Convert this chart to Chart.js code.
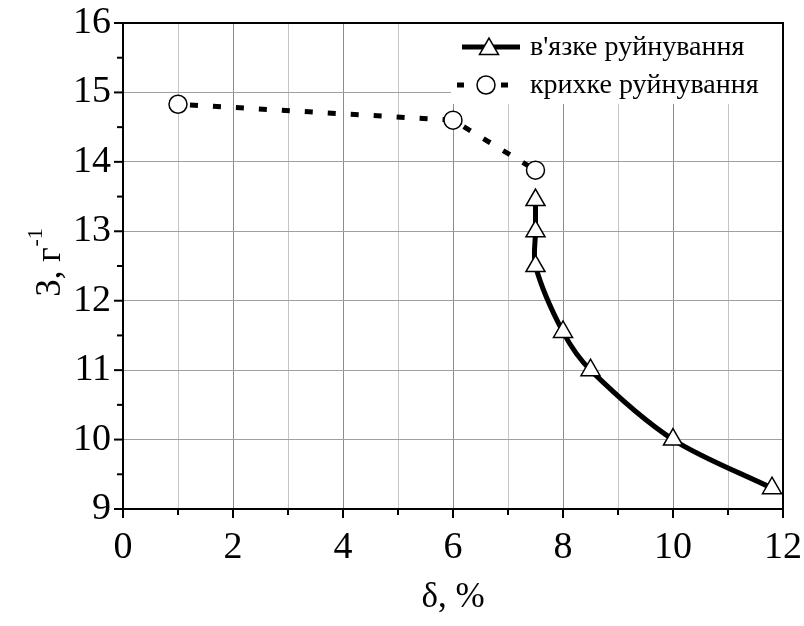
<!DOCTYPE html>
<html>
<head>
<meta charset="utf-8">
<script src="https://cdn.jsdelivr.net/npm/chart.js@4.4.0/dist/chart.umd.min.js"></script>
<style>
  html, body { margin: 0; padding: 0; background: #fff; }
  #wrap { width: 804px; height: 626px; }
</style>
</head>
<body>
<div id="wrap"><canvas id="myChart" width="804" height="626"></canvas></div>
<script>
// data
const ductileX = [7.5, 7.5, 7.5, 8, 8.5, 10, 11.8];
const ductileY = [13.45, 13.0, 12.5, 11.55, 11.0, 10.0, 9.3];
const brittleX = [1, 6, 7.5];
const brittleY = [14.83, 14.6, 13.88];
const ductileLabel = "в'язке руйнування";
const brittleLabel = 'крихке руйнування';
const xTicks = [0, 2, 4, 6, 8, 10, 12];
const yTicks = [9, 10, 11, 12, 13, 14, 15, 16];

const serif = '"Liberation Serif", "Times New Roman", serif';

function toPoints(xs, ys) {
  return xs.map((x, i) => ({ x: x, y: ys[i] }));
}

// frame, tick marks, axis titles and the legend box
const decorations = {
  id: 'decorations',
  afterDraw(chart) {
    const ctx = chart.ctx;
    const a = chart.chartArea;
    const xs = chart.scales.x;
    const ys = chart.scales.y;
    ctx.save();
    ctx.strokeStyle = '#000';
    ctx.lineWidth = 2;
    ctx.beginPath();
    ctx.moveTo(a.left, a.top);
    ctx.lineTo(a.right, a.top);
    ctx.lineTo(a.right, a.bottom);
    ctx.stroke();

    // x ticks (major on even values)
    for (let v = 0; v <= 12; v++) {
      const px = xs.getPixelForValue(v);
      const len = v % 2 === 0 ? 9 : 6;
      ctx.beginPath();
      ctx.moveTo(px, a.bottom);
      ctx.lineTo(px, a.bottom + len);
      ctx.stroke();
    }
    // y ticks (minor on halves)
    for (let v = 9; v <= 16; v += 0.5) {
      const py = ys.getPixelForValue(v);
      const len = Number.isInteger(v) ? 9 : 6;
      ctx.beginPath();
      ctx.moveTo(a.left, py);
      ctx.lineTo(a.left - len, py);
      ctx.stroke();
    }

    // x title
    ctx.fillStyle = '#000';
    ctx.font = '35px ' + serif;
    ctx.textAlign = 'center';
    ctx.textBaseline = 'middle';
    ctx.fillText('δ, %', 453, 598);

    // y title with superscript
    ctx.translate(48, 263);
    ctx.rotate(-Math.PI / 2);
    ctx.textAlign = 'left';
    ctx.textBaseline = 'alphabetic';
    ctx.font = '35px ' + serif;
    const main = 'З, г';
    const wMain = ctx.measureText(main).width;
    ctx.font = '22px ' + serif;
    const sup = '-1';
    const wSup = ctx.measureText(sup).width;
    const start = -(wMain + wSup) / 2;
    ctx.font = '35px ' + serif;
    ctx.fillText(main, start, 12);
    ctx.font = '22px ' + serif;
    ctx.fillText(sup, start + wMain + 1, -6);
    ctx.restore();

    // legend
    ctx.save();
    ctx.fillStyle = '#fff';
    ctx.fillRect(451, a.top + 1, a.right - 452, 80);
    ctx.strokeStyle = '#000';
    ctx.lineWidth = 5;
    ctx.beginPath();
    ctx.moveTo(462, 47);
    ctx.lineTo(520, 47);
    ctx.stroke();
    ctx.setLineDash([7, 15]);
    ctx.beginPath();
    ctx.moveTo(457, 85);
    ctx.lineTo(512, 85);
    ctx.stroke();
    ctx.setLineDash([]);
    ctx.fillStyle = '#fff';
    ctx.lineWidth = 1.5;
    Chart.helpers.drawPoint(ctx, { pointStyle: 'triangle', radius: 11, borderWidth: 1.5 }, 489, 49);
    ctx.beginPath();
    ctx.arc(486, 85, 9, 0, Math.PI * 2);
    ctx.fill();
    ctx.stroke();
    ctx.fillStyle = '#000';
    ctx.font = '28px ' + serif;
    ctx.textAlign = 'left';
    ctx.textBaseline = 'middle';
    ctx.fillText(ductileLabel, 530, 48);
    ctx.fillText(brittleLabel, 530, 86);
    ctx.restore();
  }
};

const ctx = document.getElementById('myChart').getContext('2d');

const myChart = new Chart(ctx, {
  type: 'scatter',
  data: {
    datasets: [
      {
        label: ductileLabel,
        data: toPoints(ductileX, ductileY),
        showLine: true,
        borderColor: '#000',
        borderWidth: 5,
        tension: 0.3,
        pointStyle: 'triangle',
        pointRadius: 11,
        pointBackgroundColor: '#fff',
        pointBorderColor: '#000',
        pointBorderWidth: 1.5
      },
      {
        label: brittleLabel,
        data: toPoints(brittleX, brittleY),
        showLine: true,
        borderColor: '#000',
        borderWidth: 5,
        borderDash: [8, 15],
        borderDashOffset: -12,
        pointStyle: 'circle',
        pointRadius: 9,
        pointBackgroundColor: '#fff',
        pointBorderColor: '#000',
        pointBorderWidth: 1.5
      }
    ]
  },
  options: {
    responsive: false,
    animation: false,
    layout: { padding: { left: 0, top: 23, right: 21, bottom: 0 } },
    plugins: {
      legend: { display: false },
      tooltip: { enabled: false }
    },
    scales: {
      x: {
        type: 'linear',
        min: 0,
        max: 12,
        afterFit: s => { s.height = 117; s.paddingLeft = 0; s.paddingRight = 0; },
        afterBuildTicks: s => { s.ticks = []; for (let v = 0; v <= 12; v++) s.ticks.push({ value: v }); },
        ticks: {
          padding: 16,
          color: '#000',
          font: { family: serif, size: 38 },
          maxRotation: 0,
          autoSkip: false,
          callback: v => xTicks.includes(v) ? String(v) : ''
        },
        grid: {
          drawTicks: false,
          color: c => (c.tick && c.tick.value % 2 === 0) ? '#8c8c8c' : '#c4c4c4',
          lineWidth: 1
        },
        border: { display: true, color: '#000', width: 2 }
      },
      y: {
        type: 'linear',
        min: 9,
        max: 16,
        afterFit: s => { s.width = 123; s.paddingTop = 0; s.paddingBottom = 0; },
        afterBuildTicks: s => { s.ticks = yTicks.map(v => ({ value: v })); },
        ticks: {
          padding: 12,
          color: '#000',
          font: { family: serif, size: 38 }
        },
        grid: {
          drawTicks: false,
          color: '#a0a0a0',
          lineWidth: 1
        },
        border: { display: true, color: '#000', width: 2 }
      }
    }
  },
  plugins: [decorations]
});
</script>
</body>
</html>
